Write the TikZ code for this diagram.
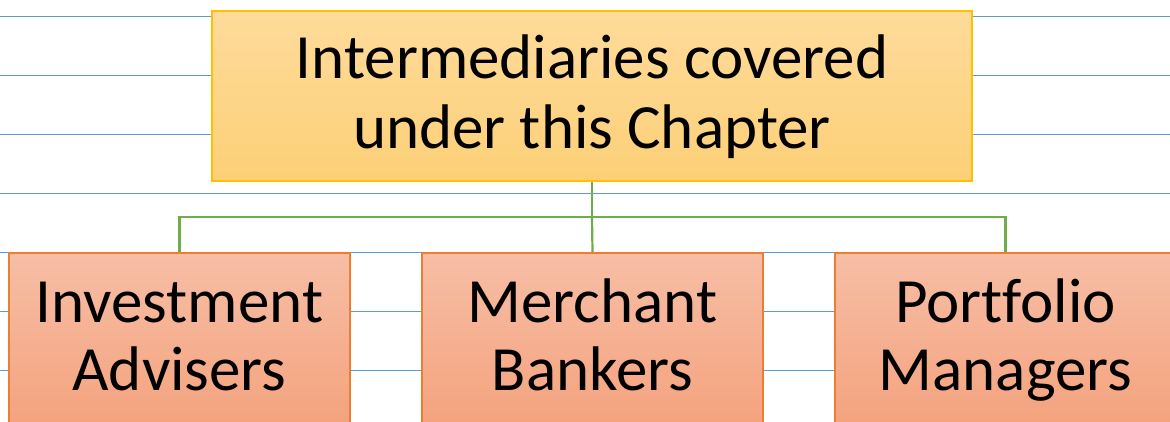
\documentclass[tikz,border=0pt]{standalone}
\usepackage{fontspec}
\setmainfont{Carlito}[Ligatures=NoCommon]
\definecolor{gridblue}{HTML}{5B9BD5}
\definecolor{topfillA}{HTML}{FEDB9B}
\definecolor{topfillB}{HTML}{FDD077}
\definecolor{topborder}{HTML}{FFC000}
\definecolor{botfillA}{HTML}{F7BEA6}
\definecolor{botfillB}{HTML}{F4A37E}
\definecolor{botborder}{HTML}{ED7D31}
\definecolor{linkgreen}{HTML}{70AD47}
\tikzset{
  gridline/.style={draw=gridblue, line width=1.2pt},
  topbox/.style={draw=topborder, line width=1.5pt, top color=topfillA, bottom color=topfillB,
    minimum width=760pt, minimum height=170pt, inner sep=0pt, align=center,
    font=\fontsize{63}{70}\selectfont, text height=110pt, text depth=5.4pt},
  childbox/.style={draw=botborder, line width=1.5pt, top color=botfillA, bottom color=botfillB,
    minimum width=341pt, minimum height=170pt, inner sep=0pt, align=center,
    font=\fontsize{63}{68}\selectfont, text height=110pt, text depth=5pt},
  link/.style={draw=linkgreen, line width=2.2pt}
}
\begin{document}
\begin{tikzpicture}[x=1pt,y=-1pt]
\useasboundingbox (0,0) rectangle (1170,421);
\clip (0,0) rectangle (1170,421);
\foreach \yy in {16.7,75.4,134.3,193.3,252.3,311.3,370.3}
  \draw[gridline] (0,\yy) -- (1170,\yy);
\node[topbox] (top) at (592,96) {Intermediaries covered\\under this Chapter};
\node[childbox] (c1) at (179.5,338) {Investment\\Advisers};
\node[childbox] (c2) at (592.5,338) {Merchant\\Bankers};
\node[childbox] (c3) at (1005.5,338) {Portfolio\\Managers};
\coordinate (bus) at (592,217);
\draw[link] (top.south) -- (bus);
\draw[link] (bus) -| (c1.north);
\draw[link] (bus) -| (c3.north);
\draw[link] (bus) -- (c2.north);
\end{tikzpicture}
\end{document}
